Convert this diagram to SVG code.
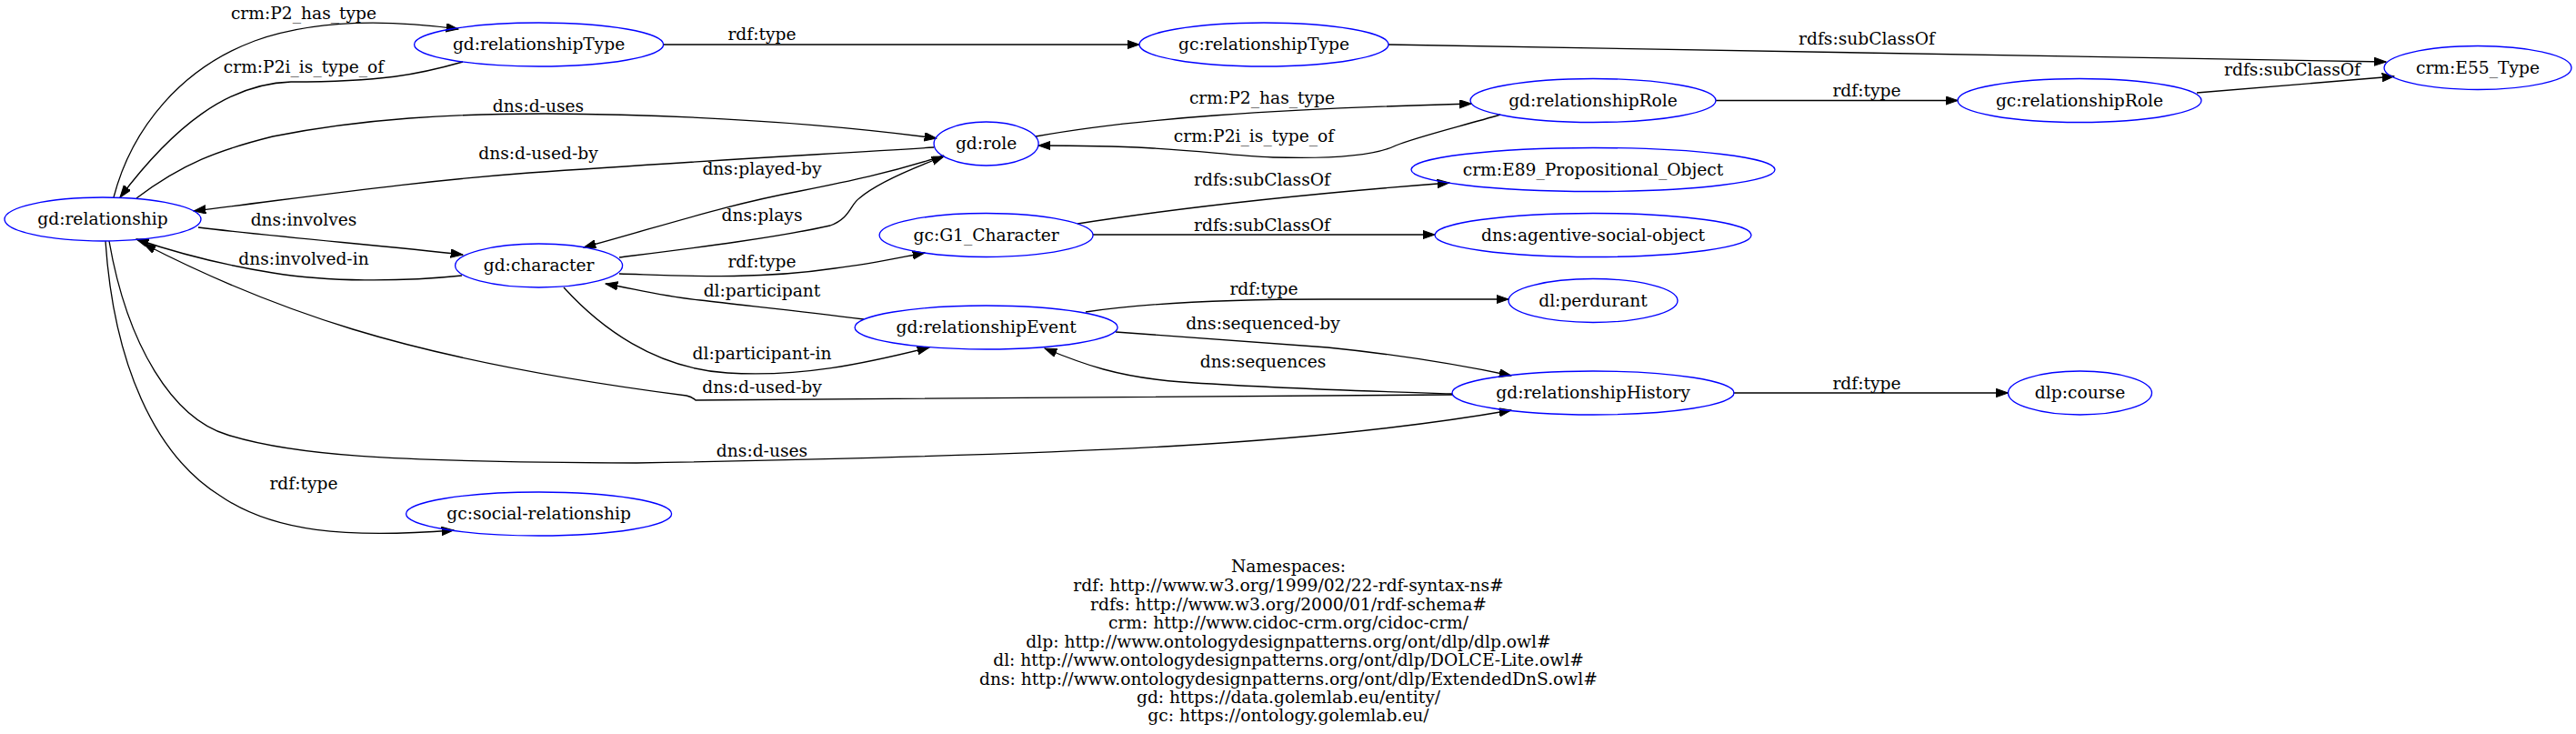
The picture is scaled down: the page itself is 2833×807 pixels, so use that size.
<svg xmlns="http://www.w3.org/2000/svg" width="2833" height="807" viewBox="0 0 2833 807">
<style>
text{font-family:"DejaVu Serif","Liberation Serif",serif;font-size:18.67px;text-anchor:middle;fill:#000}
.n ellipse{fill:none;stroke:#0000ff;stroke-width:1.33}
.e path{fill:none;stroke:#000;stroke-width:1.33;marker-end:url(#ah)}
</style>
<defs>
<marker id="ah" markerUnits="userSpaceOnUse" markerWidth="14" markerHeight="10" refX="13.3" refY="4.67" orient="auto">
<path d="M0,0 L13.3,4.67 L0,9.33 z" fill="#000" stroke="#000" stroke-width="1"/>
</marker>
</defs>
<rect width="2833" height="807" fill="#fff"/>
<g id="edges" class="e">
<path d="M125,217 C145,140 200,75 280,45 C350,20 430,22 504,32"/>
<text x="334" y="21">crm:P2_has_type</text>
<path d="M509,68 C460,82 420,90 320,90 C250,92 190,140 132,217"/>
<text x="334" y="80">crm:P2i_is_type_of</text>
<path d="M730,49 L1253,49"/>
<text x="838" y="44">rdf:type</text>
<path d="M1527,49 C1800,52 2200,60 2624,68"/>
<text x="2053" y="49">rdfs:subClassOf</text>
<path d="M150,218 C200,180 240,165 300,150 C400,130 500,125 600,125 C760,126 900,135 1030,152"/>
<text x="592" y="123">dns:d-uses</text>
<path d="M1027,162 C900,170 750,178 582,190 C450,200 350,215 213,232"/>
<text x="592" y="175">dns:d-used-by</text>
<path d="M1139,150 C1250,130 1400,120 1618,114"/>
<text x="1388" y="114">crm:P2_has_type</text>
<path d="M1650,126 C1610,138 1560,150 1535,160 C1515,170 1470,175 1400,173 C1330,170 1300,160 1142,160"/>
<text x="1379" y="156">crm:P2i_is_type_of</text>
<path d="M1887,110.5 L2153,110.5"/>
<text x="2053" y="106">rdf:type</text>
<path d="M2416,102 L2633,84"/>
<text x="2521" y="83">rdfs:subClassOf</text>
<path d="M1038,171 C980,190 930,200 880,210 C800,225 740,245 642,272"/>
<text x="838" y="192">dns:played-by</text>
<path d="M681,283 C760,273 850,262 913,248 C935,240 935,225 945,218 C960,205 990,190 1038,172"/>
<text x="838" y="243">dns:plays</text>
<path d="M1185,246 C1300,228 1450,212 1594,201"/>
<text x="1388" y="204">rdfs:subClassOf</text>
<path d="M1202,258 L1578,258"/>
<text x="1388" y="254">rdfs:subClassOf</text>
<path d="M218,250 C300,260 420,270 509,280"/>
<text x="334" y="248">dns:involves</text>
<path d="M508,303 C440,310 360,310 300,300 C250,292 200,280 150,263"/>
<text x="334" y="291">dns:involved-in</text>
<path d="M681,301 C750,303 830,308 918,295 C960,290 990,283 1017,278"/>
<text x="838" y="294">rdf:type</text>
<path d="M950,351 C880,342 820,336 770,330 C730,326 700,318 666,312"/>
<text x="838" y="326">dl:participant</text>
<path d="M620,316 C660,360 720,405 800,410 C880,415 950,400 1022,382"/>
<text x="838" y="395">dl:participant-in</text>
<path d="M1194,343 C1260,333 1350,329 1460,329 L1659,329"/>
<text x="1390" y="324">rdf:type</text>
<path d="M1227,365 C1320,372 1400,377 1460,382 C1540,390 1600,400 1662,413"/>
<text x="1389" y="362">dns:sequenced-by</text>
<path d="M1597,433 C1500,430 1400,427 1300,420 C1230,415 1190,400 1149,383"/>
<text x="1389" y="404">dns:sequences</text>
<path d="M1597,434 L765,440 C762,437 760,436 755,435 C600,415 480,390 388,362 C300,335 220,300 158,268"/>
<text x="838" y="432">dns:d-used-by</text>
<path d="M120,265 C140,380 190,460 250,478 C320,500 420,508 700,509 C1200,500 1450,488 1662,451"/>
<text x="838" y="502">dns:d-uses</text>
<path d="M1906.5,432 L2208.5,432"/>
<text x="2053" y="428">rdf:type</text>
<path d="M116,265 C125,400 170,500 242,545 C300,585 380,592 499,583"/>
<text x="334" y="538">rdf:type</text>
</g>
<g id="n-relationship" class="n"><ellipse cx="113" cy="241" rx="108" ry="24"/><text x="113" y="247">gd:relationship</text></g>
<g id="n-relationshipType" class="n"><ellipse cx="592.6" cy="49" rx="137" ry="24"/><text x="592.6" y="55">gd:relationshipType</text></g>
<g id="n-character" class="n"><ellipse cx="592.6" cy="292" rx="92" ry="24"/><text x="592.6" y="298">gd:character</text></g>
<g id="n-social" class="n"><ellipse cx="592.6" cy="565" rx="146" ry="24"/><text x="592.6" y="571">gc:social-relationship</text></g>
<g id="n-role" class="n"><ellipse cx="1084.6" cy="158" rx="57.5" ry="24"/><text x="1084.6" y="164">gd:role</text></g>
<g id="n-G1" class="n"><ellipse cx="1084.6" cy="258.5" rx="117.5" ry="24"/><text x="1084.6" y="264.5">gc:G1_Character</text></g>
<g id="n-event" class="n"><ellipse cx="1084.6" cy="360" rx="144.5" ry="24"/><text x="1084.6" y="366">gd:relationshipEvent</text></g>
<g id="n-gcRelType" class="n"><ellipse cx="1390" cy="49" rx="137" ry="24"/><text x="1390" y="55">gc:relationshipType</text></g>
<g id="n-relRole" class="n"><ellipse cx="1752" cy="110.5" rx="135" ry="24"/><text x="1752" y="116.5">gd:relationshipRole</text></g>
<g id="n-E89" class="n"><ellipse cx="1752" cy="186.5" rx="200" ry="24"/><text x="1752" y="192.5">crm:E89_Propositional_Object</text></g>
<g id="n-agentive" class="n"><ellipse cx="1752" cy="258.5" rx="174" ry="24"/><text x="1752" y="264.5">dns:agentive-social-object</text></g>
<g id="n-perdurant" class="n"><ellipse cx="1752" cy="330.5" rx="93" ry="24"/><text x="1752" y="336.5">dl:perdurant</text></g>
<g id="n-history" class="n"><ellipse cx="1752" cy="432" rx="155" ry="24"/><text x="1752" y="438">gd:relationshipHistory</text></g>
<g id="n-gcRelRole" class="n"><ellipse cx="2287" cy="110.5" rx="134" ry="24"/><text x="2287" y="116.5">gc:relationshipRole</text></g>
<g id="n-E55" class="n"><ellipse cx="2725" cy="74.5" rx="103" ry="24"/><text x="2725" y="80.5">crm:E55_Type</text></g>
<g id="n-course" class="n"><ellipse cx="2287.5" cy="432" rx="79" ry="24"/><text x="2287.5" y="438">dlp:course</text></g>
<g id="namespaces">
<text x="1417" y="629">Namespaces:</text>
<text x="1417" y="650">rdf: http://www.w3.org/1999/02/22-rdf-syntax-ns#</text>
<text x="1417" y="670.5">rdfs: http://www.w3.org/2000/01/rdf-schema#</text>
<text x="1417" y="691">crm: http://www.cidoc-crm.org/cidoc-crm/</text>
<text x="1417" y="711.5">dlp: http://www.ontologydesignpatterns.org/ont/dlp/dlp.owl#</text>
<text x="1417" y="732">dl: http://www.ontologydesignpatterns.org/ont/dlp/DOLCE-Lite.owl#</text>
<text x="1417" y="752.5">dns: http://www.ontologydesignpatterns.org/ont/dlp/ExtendedDnS.owl#</text>
<text x="1417" y="773">gd: https://data.golemlab.eu/entity/</text>
<text x="1417" y="793">gc: https://ontology.golemlab.eu/</text>
</g>
</svg>
